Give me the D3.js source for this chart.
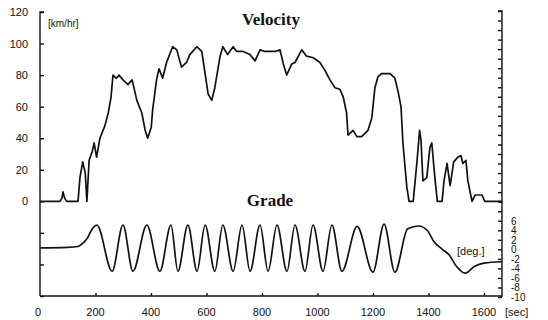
<!DOCTYPE html>
<html>
<head>
<meta charset="utf-8">
<script src="https://cdn.jsdelivr.net/npm/d3@7/dist/d3.min.js"></script>
<style>
  body { margin: 0; background: #fff; }
  svg { display: block; }
  .tick_label { font-family: 'Liberation Sans', Arial, sans-serif; font-size: 11px; fill: #111; }
  .title { font-family: 'Liberation Serif', 'Times New Roman', serif; font-weight: bold; font-size: 17px; fill: #111; }
  .unit { font-family: 'Liberation Sans', Arial, sans-serif; font-size: 10px; fill: #111; }
</style>
</head>
<body>
<svg id="chart" width="548" height="320"></svg>
<script>
// time axis (sec)
const timeTicks = [0, 200, 400, 600, 800, 1000, 1200, 1400, 1600];
const velTicks = [0, 20, 40, 60, 80, 100, 120];
const gradeTicks = [-10, -8, -6, -4, -2, 0, 2, 4, 6];

// velocity trace [sec, km/h]
const velTime = [0, 72, 79, 83, 89, 96, 137, 144, 154, 163, 169, 177, 189, 195, 204, 216, 234, 246, 256, 263,
  275, 285, 299, 317, 332, 349, 367, 379, 388, 401, 406, 420, 429, 442, 456, 478, 493, 510, 528, 540,
  565, 583, 595, 606, 619, 630, 649, 659, 676, 696, 709, 732, 757, 775, 793, 811, 847, 865, 877, 889,
  907, 919, 943, 961, 985, 1009, 1027, 1045, 1063, 1081, 1093, 1105, 1110, 1128, 1142, 1159, 1182, 1196, 1207, 1218,
  1232, 1262, 1279, 1290, 1301, 1308, 1322, 1330, 1345, 1359, 1368, 1373, 1380, 1394, 1405, 1412, 1423, 1432, 1449, 1456,
  1467, 1478, 1491, 1506, 1517, 1524, 1535, 1542, 1557, 1568, 1593, 1603, 1665];
const velValue = [0, 0, 2, 6, 2, 0, 0, 15, 25, 18, 0, 26, 32, 37, 28, 40, 48, 56, 66, 80,
  78, 80, 77, 74, 77, 64, 56, 45, 40, 47, 58, 77, 84, 78, 88, 98, 96, 85, 88, 93,
  98, 95, 81, 68, 64, 72, 92, 98, 93, 98, 95, 95, 93, 89, 96, 95, 95, 96, 87, 80,
  87, 88, 96, 92, 91, 88, 83, 77, 72, 71, 66, 56, 42, 45, 41, 41, 45, 53, 72, 79,
  81, 81, 78, 70, 60, 37, 9, 0, 0, 26, 45, 39, 13, 15, 34, 37, 15, 0, 0, 13,
  24, 10, 25, 28, 29, 24, 26, 13, 0, 4, 4, 0, 0];

// grade trace [sec, deg]
const gradeTime = [0, 100, 137, 144, 169, 191, 205, 260, 299, 335, 385, 432, 472, 497, 533, 566, 595, 630, 659, 696,
  728, 757, 793, 822, 854, 890, 919, 955, 984, 1020, 1052, 1088, 1143, 1200, 1240, 1279, 1325, 1365, 1395, 1420,
  1450, 1475, 1500, 1532, 1565, 1600, 1665];
const gradeValue = [0.3, 0.4, 0.6, 0.8, 2.2, 4.5, 5.1, -4.6, 5.1, -4.6, 5.1, -4.6, 5.1, -4.6, 5.1, -4.6, 5.1, -4.6, 5.1, -4.6,
  5.1, -4.6, 5.1, -4.6, 5.1, -4.6, 5.1, -4.6, 5.1, -4.6, 5.1, -4.6, 4.8, -4.8, 5.3, -4.8, 4.3, 4.9, 4.0, 1.6,
  0.0, -1.2, -3.5, -5.0, -3.6, -2.9, -2.6];

const svg = d3.select('#chart');

const x = d3.scaleLinear().domain([0, 1665]).range([40, 502]);
const yVel = d3.scaleLinear().domain([-60, 120]).range([296, 12]);
const yGrade = d3.scaleLinear().domain([-10, 50]).range([297, 11]);

// axes
const axisG = svg.append('g').attr('class', 'axes');
axisG.append('g')
  .attr('transform', 'translate(40,0)')
  .call(d3.axisRight(yVel).tickValues(d3.range(-60, 121, 20)).tickSize(4).tickFormat(''))
  .call(g => g.select('.domain').attr('d', `M4,${yVel(120)}H0V${yVel(-60)}`));
axisG.append('g')
  .attr('transform', 'translate(502,0)')
  .call(d3.axisLeft(yGrade).tickValues(d3.range(-10, 51, 2)).tickSize(4).tickFormat(''))
  .call(g => g.select('.domain').attr('d', `M-4,${yGrade(50)}H0V${yGrade(-10)}`));
axisG.append('g')
  .attr('transform', 'translate(0,296)')
  .call(d3.axisTop(x).tickValues(timeTicks.slice(1)).tickSize(3).tickFormat(''))
  .call(g => g.select('.domain').attr('d', `M${x(0)},0H${x(1665)}`));
axisG.selectAll('path, line').attr('stroke', '#111').attr('stroke-width', 1.4);

// tick labels
svg.append('g').selectAll('text')
  .data(velTicks)
  .enter()
  .append('text')
  .attr('class', 'tick_label')
  .attr('text-anchor', 'end')
  .attr('x', 28)
  .attr('y', d => yVel(d) + 4)
  .text(d => d);

svg.append('g').selectAll('text')
  .data(timeTicks)
  .enter()
  .append('text')
  .attr('class', 'tick_label')
  .attr('text-anchor', 'middle')
  .attr('x', d => x(d) - (d === 0 ? 2 : 0))
  .attr('y', 316)
  .text(d => d);

svg.append('g').selectAll('text')
  .data(gradeTicks)
  .enter()
  .append('text')
  .attr('class', 'tick_label')
  .attr('x', 511)
  .attr('y', d => yGrade(d) + 4)
  .style('font-size', '10px')
  .text(d => d < 0 ? '-' + Math.abs(d) : d);

// lines
const velLine = d3.line()
  .x(i => x(velTime[i]))
  .y(i => yVel(velValue[i]));
svg.append('path')
  .attr('d', velLine(d3.range(velTime.length)))
  .attr('fill', 'none')
  .attr('stroke', '#111')
  .attr('stroke-width', 1.7)
  .attr('stroke-linejoin', 'round');

const gradeLine = d3.line()
  .curve(d3.curveMonotoneX)
  .x(i => x(gradeTime[i]))
  .y(i => yGrade(gradeValue[i]));
svg.append('path')
  .attr('d', gradeLine(d3.range(gradeTime.length)))
  .attr('fill', 'none')
  .attr('stroke', '#111')
  .attr('stroke-width', 1.7);

// titles and units
svg.append('text').attr('class', 'title').attr('x', 271).attr('y', 25).attr('text-anchor', 'middle').text('Velocity');
svg.append('text').attr('class', 'title').attr('x', 270).attr('y', 206).attr('text-anchor', 'middle').text('Grade');
svg.append('text').attr('class', 'unit').attr('x', 48).attr('y', 27).text('[km/hr]');
svg.append('text').attr('class', 'unit').attr('x', 457).attr('y', 255).style('font-size', '11px').text('[deg.]');
svg.append('text').attr('class', 'tick_label').attr('x', 505).attr('y', 316).text('[sec]');
</script>
</body>
</html>
